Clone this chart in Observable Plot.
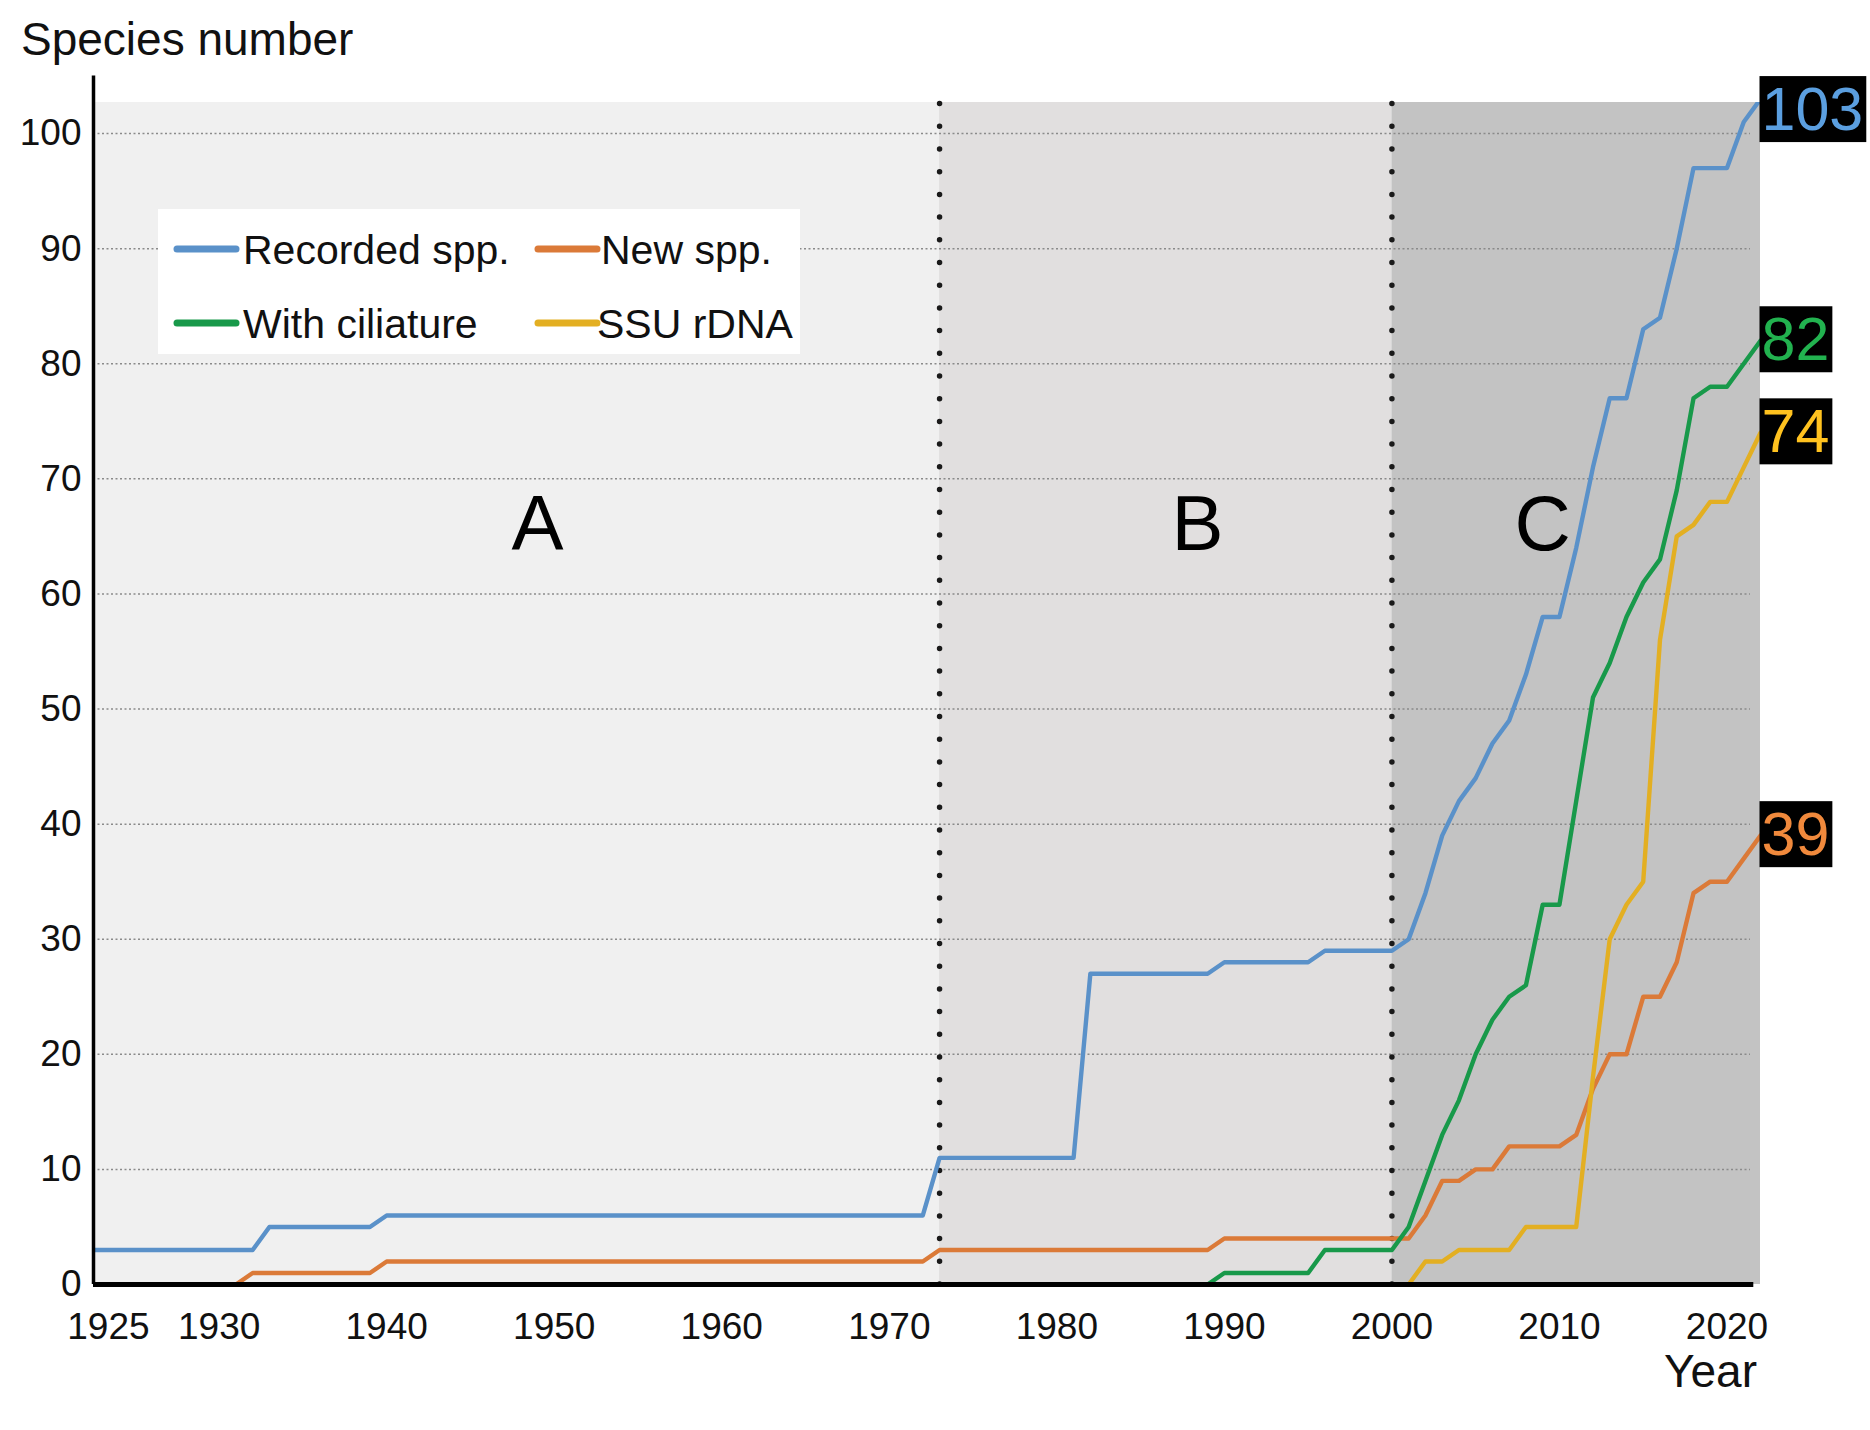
<!DOCTYPE html>
<html>
<head>
<meta charset="utf-8">
<script src="https://cdn.jsdelivr.net/npm/d3@7"></script>
<script src="https://cdn.jsdelivr.net/npm/@observablehq/plot@0.6"></script>
<style>
html, body { margin: 0; padding: 0; background: #fff; }
#wrap { position: relative; width: 1870px; height: 1430px; }
</style>
</head>
<body>
<div id="wrap"></div>
<script>
// ---------- data ----------
const yAxisTitle = "Species number";
const xAxisTitle = "Year";
const seriesNames = ["Recorded spp.", "New spp.", "With ciliature", "SSU rDNA"];

const recordedYears  = [1922,1932,1933,1939,1940,1972,1973,1981,1982,1989,1990,1995,1996,2000,2001,2002,2003,2004,2005,2006,2007,2008,2009,2010,2011,2012,2013,2014,2015,2016,2017,2018,2019,2020,2021,2022];
const recordedValues = [3,3,5,5,6,6,11,11,27,27,28,28,29,29,30,34,39,42,44,47,49,53,58,58,64,71,77,77,83,84,90,97,97,97,101,103];

const newYears  = [1931,1932,1939,1940,1972,1973,1989,1990,2001,2002,2003,2004,2005,2006,2007,2010,2011,2012,2013,2014,2015,2016,2017,2018,2019,2020,2021,2022];
const newValues = [0,1,1,2,2,3,3,4,4,6,9,9,10,10,12,12,13,17,20,20,25,25,28,34,35,35,37,39];

const ciliatureYears  = [1989,1990,1995,1996,2000,2001,2002,2003,2004,2005,2006,2007,2008,2009,2010,2011,2012,2013,2014,2015,2016,2017,2018,2019,2020,2021,2022];
const ciliatureValues = [0,1,1,3,3,5,9,13,16,20,23,25,26,33,33,42,51,54,58,61,63,69,77,78,78,80,82];

const ssuYears  = [2001,2002,2003,2004,2007,2008,2011,2012,2013,2014,2015,2016,2017,2018,2019,2020,2021,2022];
const ssuValues = [0,2,2,3,3,5,5,18,30,33,35,56,65,66,68,68,71,74];

const periodNames = ["A", "B", "C"];
const periodStart = [1922.5, 1973, 2000];
const periodEnd   = [1973, 2000, 2022];
const periodDividers = [1973, 2000];

const xTicks = [1925, 1930, 1940, 1950, 1960, 1970, 1980, 1990, 2000, 2010, 2020];
const yTicks = [0, 10, 20, 30, 40, 50, 60, 70, 80, 90, 100];
const gridValues = [10, 20, 30, 40, 50, 60, 70, 80, 90, 100];

// ---------- layout & style ----------
const FONT = "'Liberation Sans', Arial, Helvetica, sans-serif";
const xDomain = [1922.5, 2022];
const yDomain = [0, 102.7];
const lineColors  = ["#5a91c9", "#db7a38", "#18994a", "#e3af22"];
const labelColors = ["#5b9fe0", "#f0893c", "#22b24f", "#ffc21f"];
const periodFill = ["#f0f0f0", "#e1dfdf", "#c3c3c3"];
const periodLabelX = [1949, 1988.4, 2009];
const periodLabelY = 66;

const seriesYears  = [recordedYears, newYears, ciliatureYears, ssuYears];
const seriesValues = [recordedValues, newValues, ciliatureValues, ssuValues];

const seriesRows = seriesNames.map((name, s) =>
  seriesYears[s].map((year, i) => ({series: name, year, value: seriesValues[s][i]})));

const finals = seriesNames.map((name, s) => ({name, value: seriesValues[s][seriesValues[s].length - 1], color: labelColors[s]}));

const chart = Plot.plot({
  width: 1870,
  height: 1430,
  marginLeft: 93,
  marginRight: 110,
  marginTop: 102,
  marginBottom: 146,
  x: {domain: xDomain},
  y: {domain: yDomain},
  style: {fontFamily: FONT, color: "#111", background: "#fff", overflow: "visible"},
  marks: [
    ...periodNames.map((p, i) => Plot.rect([p], {x1: periodStart[i], x2: periodEnd[i], y1: yDomain[0], y2: yDomain[1], fill: periodFill[i]})),
    Plot.ruleY(gridValues, {x1: xDomain[0], x2: 2021.4, stroke: "#8a8a8a", strokeWidth: 1.5, strokeDasharray: "2,2.5"}),
    Plot.ruleX(periodDividers, {y1: yDomain[0], y2: yDomain[1], stroke: "#1a1a1a", strokeWidth: 5.5, strokeDasharray: "0,22.7", strokeLinecap: "round"}),
    Plot.text(periodNames, {x: (d, i) => periodLabelX[i], y: periodLabelY, text: d => d, fontSize: 78, fill: "#000"}),
    ...seriesRows.map((rows, s) => Plot.line(rows, {x: "year", y: "value", stroke: lineColors[s], strokeWidth: 4.4, strokeLinejoin: "round", clip: "frame"})),
    Plot.ruleX([xDomain[0]], {y1: 0, y2: 105, stroke: "#000", strokeWidth: 3.5}),
    Plot.ruleY([0], {x1: xDomain[0], x2: 2021.6, stroke: "#000", strokeWidth: 5}),
    Plot.axisY(yTicks, {tickSize: 0, tickPadding: 12, fontSize: 37, label: null}),
    Plot.axisX(xTicks.slice(1), {tickSize: 0, tickPadding: 28, fontSize: 37, label: null, tickFormat: d => String(d)}),
    Plot.axisX(xTicks.slice(0, 1), {tickSize: 0, tickPadding: 28, fontSize: 37, label: null, tickFormat: d => String(d), dx: -27}),
    ...finals.map(f => Plot.text([f], {x: xDomain[1], y: d => Math.min(d.value, 102), text: d => String(d.value), fill: f.color, fontSize: 61, textAnchor: "start", dx: 1}))
  ]
});

document.getElementById("wrap").appendChild(chart);

// black boxes behind end labels
const svgBox = chart.getBoundingClientRect();
chart.querySelectorAll('g[font-size="61"]').forEach(g => {
  const boxes = document.createElementNS("http://www.w3.org/2000/svg", "g");
  g.querySelectorAll("text").forEach(t => {
    const b = t.getBoundingClientRect();
    const r = document.createElementNS("http://www.w3.org/2000/svg", "rect");
    r.setAttribute("x", b.left - svgBox.left - 2);
    r.setAttribute("y", b.top - svgBox.top + 1);
    r.setAttribute("width", b.width + 5);
    r.setAttribute("height", b.height - 2);
    r.setAttribute("fill", "#000");
    boxes.appendChild(r);
  });
  g.parentNode.insertBefore(boxes, g);
});

// titles and legend
const svg = d3.select(chart);
const ann = svg.append("g").attr("font-family", FONT).attr("fill", "#111").attr("text-anchor", "start");
ann.append("text").attr("x", 21).attr("y", 55).attr("font-size", 46).attr("text-anchor", "start").text(yAxisTitle);
ann.append("text").attr("x", 1757).attr("y", 1387).attr("text-anchor", "end").attr("font-size", 46).text(xAxisTitle);

const legendPos = [[16, 40], [377, 40], [16, 114], [377, 114]];
const legendTextGap = [69, 66, 69, 62];
const lg = svg.append("g").attr("transform", "translate(158,209)").attr("font-family", FONT).attr("text-anchor", "start");
lg.append("rect").attr("width", 642).attr("height", 145).attr("fill", "#fff");
seriesNames.forEach((name, i) => {
  const [lx, ly] = legendPos[i];
  lg.append("line").attr("x1", lx + 3).attr("x2", lx + 62).attr("y1", ly).attr("y2", ly)
    .attr("stroke", lineColors[i]).attr("stroke-width", 7).attr("stroke-linecap", "round");
  lg.append("text").attr("x", lx + legendTextGap[i]).attr("y", ly + 15).attr("font-size", 41).attr("fill", "#111")
    .attr("text-anchor", "start").text(name);
});
</script>
</body>
</html>
